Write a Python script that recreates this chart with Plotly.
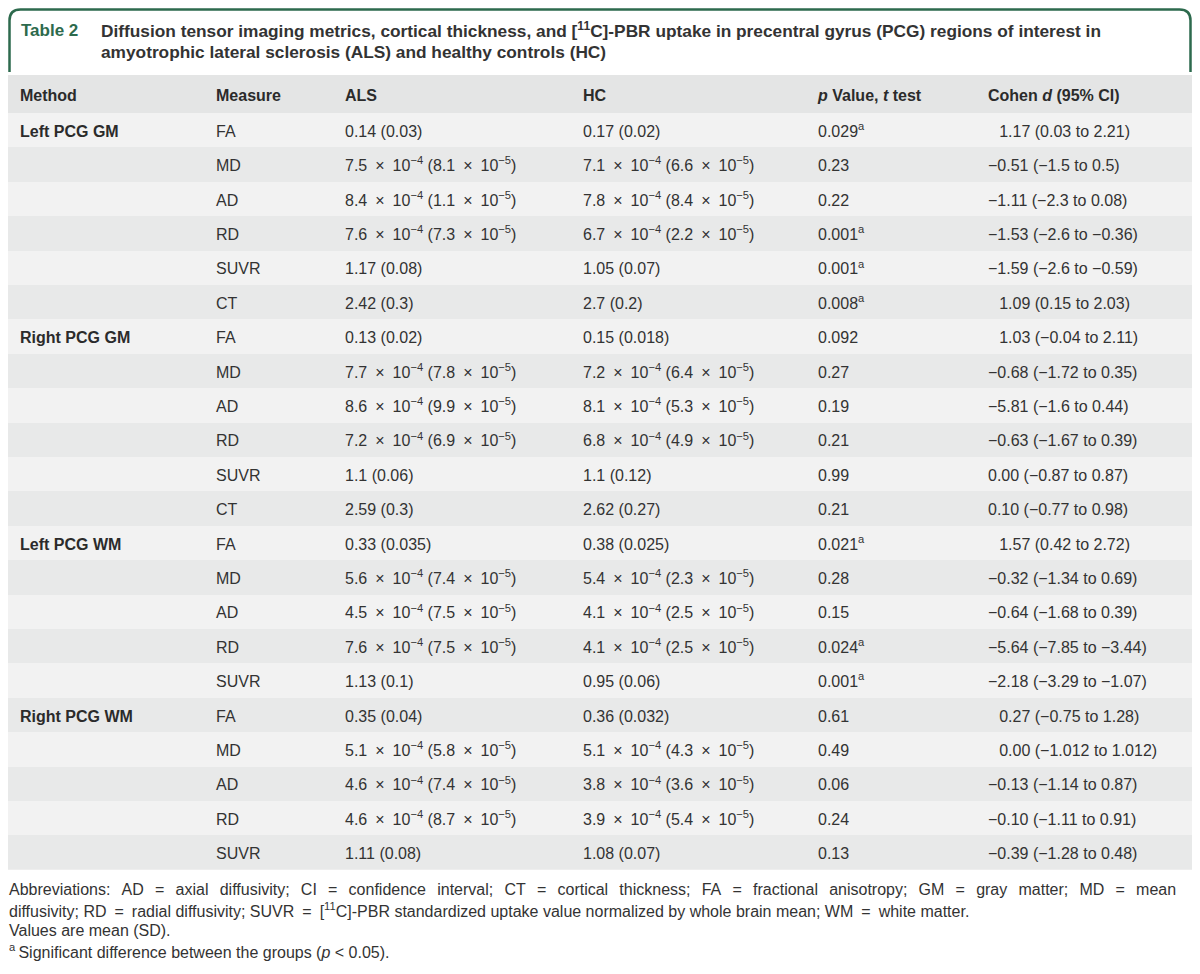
import plotly.graph_objects as go

# ---------------- data ----------------
methods = ["Left PCG GM", "", "", "", "", "",
           "Right PCG GM", "", "", "", "", "",
           "Left PCG WM", "", "", "", "",
           "Right PCG WM", "", "", "", ""]
measures = ["FA", "MD", "AD", "RD", "SUVR", "CT",
            "FA", "MD", "AD", "RD", "SUVR", "CT",
            "FA", "MD", "AD", "RD", "SUVR",
            "FA", "MD", "AD", "RD", "SUVR"]

def sci(m, e):
    return f"{m}\u2002×\u200210<sup>−{e}</sup>"

als = ["0.14 (0.03)", f"{sci('7.5',4)} ({sci('8.1',5)})", f"{sci('8.4',4)} ({sci('1.1',5)})",
       f"{sci('7.6',4)} ({sci('7.3',5)})", "1.17 (0.08)", "2.42 (0.3)",
       "0.13 (0.02)", f"{sci('7.7',4)} ({sci('7.8',5)})", f"{sci('8.6',4)} ({sci('9.9',5)})",
       f"{sci('7.2',4)} ({sci('6.9',5)})", "1.1 (0.06)", "2.59 (0.3)",
       "0.33 (0.035)", f"{sci('5.6',4)} ({sci('7.4',5)})", f"{sci('4.5',4)} ({sci('7.5',5)})",
       f"{sci('7.6',4)} ({sci('7.5',5)})", "1.13 (0.1)",
       "0.35 (0.04)", f"{sci('5.1',4)} ({sci('5.8',5)})", f"{sci('4.6',4)} ({sci('7.4',5)})",
       f"{sci('4.6',4)} ({sci('8.7',5)})", "1.11 (0.08)"]
hc = ["0.17 (0.02)", f"{sci('7.1',4)} ({sci('6.6',5)})", f"{sci('7.8',4)} ({sci('8.4',5)})",
      f"{sci('6.7',4)} ({sci('2.2',5)})", "1.05 (0.07)", "2.7 (0.2)",
      "0.15 (0.018)", f"{sci('7.2',4)} ({sci('6.4',5)})", f"{sci('8.1',4)} ({sci('5.3',5)})",
      f"{sci('6.8',4)} ({sci('4.9',5)})", "1.1 (0.12)", "2.62 (0.27)",
      "0.38 (0.025)", f"{sci('5.4',4)} ({sci('2.3',5)})", f"{sci('4.1',4)} ({sci('2.5',5)})",
      f"{sci('4.1',4)} ({sci('2.5',5)})", "0.95 (0.06)",
      "0.36 (0.032)", f"{sci('5.1',4)} ({sci('4.3',5)})", f"{sci('3.8',4)} ({sci('3.6',5)})",
      f"{sci('3.9',4)} ({sci('5.4',5)})", "1.08 (0.07)"]
pvals = ["0.029<sup>a</sup>", "0.23", "0.22", "0.001<sup>a</sup>", "0.001<sup>a</sup>", "0.008<sup>a</sup>",
         "0.092", "0.27", "0.19", "0.21", "0.99", "0.21",
         "0.021<sup>a</sup>", "0.28", "0.15", "0.024<sup>a</sup>", "0.001<sup>a</sup>",
         "0.61", "0.49", "0.06", "0.24", "0.13"]
IND = "\u2002\u2009"
cohen = [IND + "1.17 (0.03 to 2.21)", "−0.51 (−1.5 to 0.5)", "−1.11 (−2.3 to 0.08)",
         "−1.53 (−2.6 to −0.36)", "−1.59 (−2.6 to −0.59)", IND + "1.09 (0.15 to 2.03)",
         IND + "1.03 (−0.04 to 2.11)", "−0.68 (−1.72 to 0.35)", "−5.81 (−1.6 to 0.44)",
         "−0.63 (−1.67 to 0.39)", "0.00 (−0.87 to 0.87)", "0.10 (−0.77 to 0.98)",
         IND + "1.57 (0.42 to 2.72)", "−0.32 (−1.34 to 0.69)", "−0.64 (−1.68 to 0.39)",
         "−5.64 (−7.85 to −3.44)", "−2.18 (−3.29 to −1.07)",
         IND + "0.27 (−0.75 to 1.28)", IND + "0.00 (−1.012 to 1.012)", "−0.13 (−1.14 to 0.87)",
         "−0.10 (−1.11 to 0.91)", "−0.39 (−1.28 to 0.48)"]

headers = ["Method", "Measure", "ALS", "HC", "<i>p</i> Value, <i>t</i> test", "Cohen <i>d</i> (95% CI)"]

table_label = "Table 2"
title_lines = ["Diffusion tensor imaging metrics, cortical thickness, and [<sup>11</sup>C]-PBR uptake in precentral gyrus (PCG) regions of interest in",
               "amyotrophic lateral sclerosis (ALS) and healthy controls (HC)"]
footer_lines = [
    "Abbreviations: AD = axial diffusivity; CI = confidence interval; CT = cortical thickness; FA = fractional anisotropy; GM = gray matter; MD = mean",
    "diffusivity; RD = radial diffusivity; SUVR = [<sup>11</sup>C]-PBR standardized uptake value normalized by whole brain mean; WM = white matter.",
    "Values are mean (SD).",
    "<sup>a</sup>\u2009Significant difference between the groups (<i>p</i> < 0.05).",
]

# ---------------- style / layout ----------------
OFF = 8                      # page body margin of the written html
FW, FH = 1200 - 2 * OFF, 974 - 2 * OFF
FONT = "Liberation Sans, Arial, sans-serif"
TXT = "#333333"
GREEN = "#2d6a4d"
LIGHT, DARK, HEAD = "#f2f2f2", "#e8e9e9", "#e4e5e5"
col_x = [20, 216, 345, 583, 818, 988]
TABLE_TOP, HEAD_H, ROW_H = 75, 38, 34.4
TEXT_DY = 2.5                # px nudge of text within a row

def px(x):
    return (x - OFF) / FW

def py(y):
    return 1 - (y - OFF) / FH

n = len(measures)
rows = list(range(n))
hh = HEAD_H / ROW_H
head_y = -0.5 - hh / 2
table_bottom = TABLE_TOP + HEAD_H + n * ROW_H
dy = TEXT_DY / ROW_H

fig = go.Figure()
# row bands
fig.add_trace(go.Bar(orientation="h", y=rows, x=[1200] * n, base=[0] * n, width=[1] * n,
                     marker=dict(color=[LIGHT if i % 2 == 0 else DARK for i in rows], line=dict(width=0)),
                     hoverinfo="skip", showlegend=False))
fig.add_trace(go.Bar(orientation="h", y=[head_y], x=[1200], base=[0], width=[hh],
                     marker=dict(color=HEAD, line=dict(width=0)), hoverinfo="skip", showlegend=False))

# header texts
for cx, h in zip(col_x, headers):
    fig.add_trace(go.Scatter(x=[cx], y=[head_y + dy], mode="text", text=[f"<b>{h}</b>"],
                             textposition="middle right", cliponaxis=False,
                             textfont=dict(family=FONT, size=16, color="#2b2b2b"),
                             hoverinfo="skip", showlegend=False))
# body columns
cols = [[f"<b>{m}</b>" if m else "" for m in methods], measures, als, hc, pvals, cohen]
for j, (cx, vals) in enumerate(zip(col_x, cols)):
    fig.add_trace(go.Scatter(x=[cx] * n, y=[r + dy for r in rows], mode="text", text=vals,
                             textposition="middle right", cliponaxis=False,
                             textfont=dict(family=FONT, size=16, color="#2b2b2b" if j == 0 else TXT),
                             hoverinfo="skip", showlegend=False))

# header box with rounded top corners
r = 11
L, R, T, B = px(9.5), px(1190.5), py(9.5), py(72)
rx, ry = r / FW, r / FH
fig.add_shape(type="path", xref="paper", yref="paper", layer="above",
              path=(f"M {L} {B} L {L} {T - ry} Q {L} {T} {L + rx} {T} "
                    f"L {R - rx} {T} Q {R} {T} {R} {T - ry} L {R} {B}"),
              line=dict(color=GREEN, width=2.5))

ann = [dict(x=px(20), y=py(30), text=f"<b>{table_label}</b>",
            font=dict(family=FONT, size=17, color=GREEN))]
for i, t in enumerate(title_lines):
    ann.append(dict(x=px(100), y=py(30 + 22 * i), text=f"<b>{t}</b>",
                    font=dict(family=FONT, size=17.3, color="#333333")))
for i, t in enumerate(footer_lines):
    if i == 0:
        t = t.replace(" ", "\u2002\u2009")
    elif i == 1:
        t = t.replace(" = ", "\u2002=\u2002")
    ann.append(dict(x=px(8), y=py(889 + 20.8 * i), text=t,
                    font=dict(family=FONT, size=16, color=TXT)))
for a in ann:
    a.update(xref="paper", yref="paper", showarrow=False, align="left",
             xanchor="left", yanchor="middle", borderpad=0)

fig.update_layout(
    width=FW, height=FH, margin=dict(l=0, r=0, t=0, b=0),
    paper_bgcolor="white", plot_bgcolor="white", annotations=ann,
    barmode="overlay", bargap=0,
    xaxis=dict(range=[OFF, 1200 - OFF], domain=[0, 1], visible=False, fixedrange=True),
    yaxis=dict(range=[n - 0.5, -0.5 - hh], autorange=False, visible=False, fixedrange=True,
               domain=[py(table_bottom), py(TABLE_TOP)]),
)
fig.write_html("out.html")
